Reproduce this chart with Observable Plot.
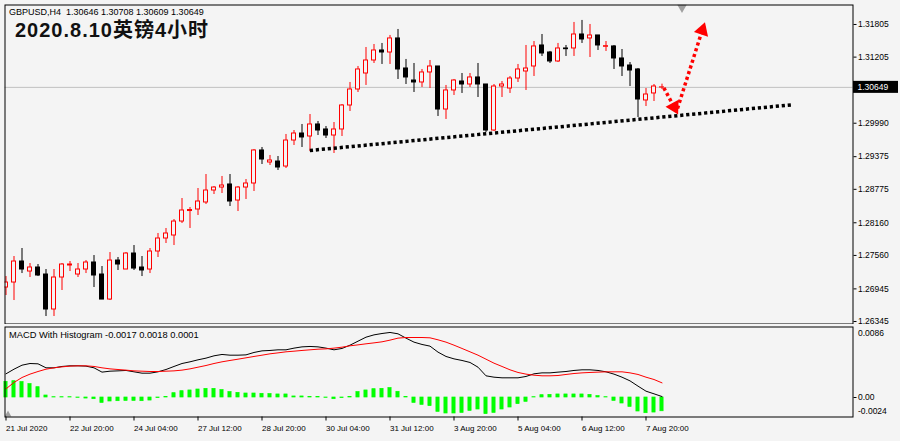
<!DOCTYPE html>
<html><head><meta charset="utf-8">
<script src="https://cdn.jsdelivr.net/npm/d3@7"></script>
<script src="https://cdn.jsdelivr.net/npm/@observablehq/plot@0.6"></script>
<style>
html,body{margin:0;padding:0;}
body{width:900px;height:441px;background:#f4f4f4;position:relative;overflow:hidden;font-family:"Liberation Sans",Arial,sans-serif;}
#main,#macd,#overlay{position:absolute;left:0;}
#main{top:0}
#macd{top:324px}
#overlay{top:0;pointer-events:none}
.edge{position:absolute;background:#a0a0a0}
svg{display:block}
</style></head><body>
<div class="edge" style="left:0;top:0;width:2px;height:441px"></div>
<div class="edge" style="left:0;top:0;width:900px;height:1px"></div>
<div id="main"></div>
<div id="macd"></div>
<div id="overlay"></div>
<script>
// ---------- data ----------
const symbol = "GBPUSD,H4";
const title = "2020.8.10英镑4小时";

const open = [1.26970,1.27062,1.27448,1.27264,1.27338,1.27209,1.26566,1.27154,1.27375,1.27209,
1.27301,1.27430,1.27209,1.26749,1.27466,1.27301,1.27595,1.27338,1.27301,1.27632,
1.27871,1.27926,1.28183,1.28376,1.28404,1.28533,1.28753,1.28808,1.28864,1.28569,
1.28808,1.28882,1.29489,1.29268,1.29286,1.29194,1.29672,1.29801,1.29746,1.29967,
1.29875,1.29764,1.29875,1.30316,1.30610,1.30904,1.31143,1.31327,1.31290,1.31548,
1.30996,1.30775,1.30739,1.30923,1.31033,1.30242,1.30592,1.30757,1.30702,1.30831,
1.30702,1.29856,1.30665,1.30628,1.30812,1.30941,1.31033,1.31419,1.31290,1.31125,
1.31364,1.31364,1.31621,1.31548,1.31603,1.31395,1.31401,1.31180,1.31051,1.30978,
1.30408,1.30537,1.30646];

const high = [1.27172,1.27540,1.27687,1.27411,1.27393,1.27301,1.27301,1.27411,1.27448,1.27411,
1.27466,1.27558,1.27356,1.27613,1.27522,1.27613,1.27742,1.27540,1.27687,1.27963,
1.28055,1.28220,1.28606,1.28441,1.28790,1.29047,1.28827,1.29011,1.29047,1.28827,
1.28955,1.29507,1.29544,1.29397,1.29378,1.29783,1.29856,1.29967,1.30150,1.30022,
1.29930,1.30003,1.30334,1.30739,1.31033,1.31382,1.31437,1.31456,1.31603,1.31713,
1.31162,1.31088,1.30978,1.31143,1.31033,1.30684,1.30794,1.30904,1.30904,1.31088,
1.30702,1.30702,1.30757,1.30849,1.31070,1.31419,1.31492,1.31621,1.31309,1.31456,
1.31419,1.31842,1.31879,1.31805,1.31603,1.31492,1.31419,1.31345,1.31106,1.30996,
1.30628,1.30702,1.30708];

const low = [1.26823,1.26731,1.27227,1.27154,1.27172,1.26437,1.26437,1.26915,1.27264,1.27154,
1.27227,1.26970,1.26749,1.26731,1.27283,1.27301,1.27283,1.27172,1.27227,1.27522,
1.27779,1.27742,1.28147,1.28055,1.28294,1.28496,1.28680,1.28698,1.28459,1.28367,
1.28588,1.28735,1.29231,1.29213,1.29121,1.29158,1.29581,1.29544,1.29470,1.29764,
1.29709,1.29434,1.29746,1.30206,1.30555,1.30684,1.31088,1.31070,1.31070,1.30794,
1.30702,1.30555,1.30647,1.30628,1.30114,1.30059,1.30500,1.30537,1.30647,1.30463,
1.29820,1.29838,1.30463,1.30537,1.30739,1.30592,1.30849,1.31217,1.31088,1.31106,
1.31217,1.31217,1.31456,1.31198,1.31327,1.31309,1.30978,1.30849,1.30665,1.30095,
1.30297,1.30389,1.30609];

const close = [1.27062,1.27448,1.27301,1.27338,1.27191,1.26566,1.27154,1.27393,1.27393,1.27301,
1.27430,1.27191,1.26749,1.27466,1.27393,1.27595,1.27319,1.27283,1.27632,1.27871,
1.27963,1.28183,1.28386,1.28395,1.28551,1.28753,1.28808,1.28845,1.28551,1.28808,
1.28882,1.29489,1.29323,1.29305,1.29176,1.29672,1.29801,1.29728,1.29967,1.29856,
1.29764,1.29875,1.30316,1.30610,1.30978,1.31143,1.31327,1.31290,1.31548,1.30978,
1.30831,1.30739,1.30923,1.31033,1.30242,1.30592,1.30775,1.30702,1.30831,1.30702,
1.29856,1.30665,1.30702,1.30812,1.30978,1.30996,1.31401,1.31272,1.31125,1.31364,
1.31351,1.31621,1.31529,1.31603,1.31419,1.31406,1.31180,1.31033,1.30959,1.30426,
1.30518,1.30665,1.30649];

const macd = [0.00296,0.00354,0.00404,0.00425,0.00421,0.00371,0.00371,0.00388,0.00396,0.00396,
0.00392,0.00371,0.00317,0.00329,0.00333,0.00338,0.00321,0.00304,0.00304,0.00321,
0.00350,0.00388,0.00425,0.00446,0.00471,0.00492,0.00521,0.00538,0.00529,0.00529,
0.00533,0.00563,0.00583,0.00588,0.00596,0.00596,0.00617,0.00633,0.00638,0.00633,
0.00617,0.00596,0.00613,0.00654,0.00704,0.00754,0.00783,0.00800,0.00813,0.00796,
0.00742,0.00692,0.00663,0.00642,0.00567,0.00513,0.00483,0.00463,0.00438,0.00379,
0.00271,0.00254,0.00246,0.00246,0.00246,0.00263,0.00296,0.00308,0.00308,0.00317,
0.00325,0.00338,0.00346,0.00346,0.00338,0.00321,0.00292,0.00254,0.00208,0.00142,
0.00079,0.00046,0.00012];

const signal = [0.00108,0.00188,0.00250,0.00292,0.00325,0.00354,0.00371,0.00383,0.00392,0.00396,
0.00396,0.00388,0.00371,0.00358,0.00350,0.00342,0.00333,0.00329,0.00325,0.00325,
0.00329,0.00333,0.00342,0.00358,0.00379,0.00400,0.00425,0.00446,0.00463,0.00479,
0.00496,0.00513,0.00529,0.00546,0.00558,0.00571,0.00579,0.00588,0.00596,0.00604,
0.00608,0.00617,0.00629,0.00646,0.00658,0.00671,0.00683,0.00696,0.00717,0.00742,
0.00750,0.00750,0.00750,0.00746,0.00721,0.00692,0.00654,0.00613,0.00571,0.00529,
0.00479,0.00429,0.00388,0.00346,0.00313,0.00292,0.00279,0.00271,0.00271,0.00275,
0.00288,0.00300,0.00308,0.00313,0.00317,0.00321,0.00321,0.00321,0.00308,0.00288,
0.00254,0.00225,0.00183];

const hist = [0.00196,0.00204,0.00192,0.00167,0.00129,0.00025,0.00004,0.00004,0.00004,-0.00004,
-0.00013,-0.00021,-0.00067,-0.00050,-0.00046,-0.00042,-0.00042,-0.00046,-0.00038,-0.00008,
0.00008,0.00054,0.00079,0.00088,0.00100,0.00108,0.00108,0.00092,0.00067,0.00058,
0.00050,0.00050,0.00046,0.00042,0.00038,0.00038,0.00013,0.00013,0.00008,0.00008,
-0.00004,-0.00021,-0.00008,0.00008,0.00067,0.00088,0.00104,0.00108,0.00117,0.00071,
0.00008,-0.00067,-0.00092,-0.00108,-0.00179,-0.00200,-0.00200,-0.00192,-0.00167,-0.00150,
-0.00208,-0.00192,-0.00150,-0.00125,-0.00083,-0.00054,0.00004,0.00029,0.00033,0.00038,
0.00038,0.00038,0.00038,0.00033,0.00017,0.00004,-0.00042,-0.00075,-0.00117,-0.00175,
-0.00196,-0.00188,-0.00172];

const priceTicks = [1.31805,1.31205,1.29990,1.29375,1.28775,1.28160,1.27560,1.26945,1.26345];
const timeTickIdx = [0,8,16,24,32,40,48,56,64,72,80];
const timeTickLabels = ["21 Jul 2020","22 Jul 20:00","24 Jul 04:00","27 Jul 12:00","28 Jul 20:00",
  "30 Jul 04:00","31 Jul 12:00","3 Aug 20:00","5 Aug 04:00","6 Aug 12:00","7 Aug 20:00"];
const macdTickVals = [0.0086, 0, -0.0024];
const macdTickLabels = ["0.0086","0.00","-0.0024"];

// annotations (bar index, price)
const trendI = [37.98, 98.27];
const trendP = [1.29489, 1.30329];
const arrowDownI = [82.23, 83.81];
const arrowDownP = [1.30641, 1.30206];
const arrowUpI = [83.94, 87.22];
const arrowUpP = [1.30261, 1.31787];
const headI = [83.51, 87.04];
const headP = [1.30287, 1.31698];
const shiftMarkI = [84.5];

// ---------- drawing ----------
const BG = "#f4f4f4", RED = "#ff0000", GREEN = "#00ff00";
const FONT = "'Liberation Sans', Arial, sans-serif";
const AX = 8.5;
const n = open.length;
const bars = d3.range(n).map(i => ({i, o: open[i], h: high[i], l: low[i], c: close[i]}));
const up = bars.filter(d => d.c >= d.o);
const dn = bars.filter(d => d.c < d.o);
const hw = 0.3125;
const xDomain = [-0.125, 105.875];
const seg = (I, P) => d3.range(I.length).map(k => ({i: I[k], p: P[k]}));
const headAngles = [152, 18];

const dotted = {strokeWidth: 3.5, strokeDasharray: "3.2,2.8", strokeLinecap: "butt"};
const shadow = {stroke: "#8c8c8c", strokeOpacity: 0.55, strokeWidth: 5, dx: 3, dy: 5, ariaLabel: "shadow"};

const mainPlot = Plot.plot({
  width: 900, height: 324,
  marginTop: 4.5, marginBottom: 0.5, marginLeft: 4.5, marginRight: 47.5,
  style: {background: BG, fontFamily: FONT, fontSize: AX + "px", overflow: "visible", color: "black"},
  x: {domain: xDomain, axis: null},
  y: {domain: [1.262995, 1.32163]},
  marks: [
    Plot.ruleY([close[n - 1]], {stroke: "#c0c0c0"}),
    Plot.ruleX(dn, {x: "i", y1: "l", y2: "h", stroke: "black", clip: true}),
    Plot.ruleX(up, {x: "i", y1: "l", y2: "h", stroke: RED, clip: true}),
    Plot.rect(dn, {x1: d => d.i - hw, x2: d => d.i + hw, y1: "o", y2: "c", fill: "black", stroke: "black", insetLeft: 0.5, insetRight: 0.5, clip: true}),
    Plot.rect(up, {x1: d => d.i - hw, x2: d => d.i + hw, y1: "o", y2: "c", fill: BG, stroke: RED, insetLeft: 0.5, insetRight: 0.5, clip: true}),
    // shadows
    Plot.line(seg(trendI, trendP), {x: "i", y: "p", ...shadow}),
    Plot.line(seg(arrowDownI, arrowDownP), {x: "i", y: "p", ...shadow}),
    Plot.line(seg(arrowUpI, arrowUpP), {x: "i", y: "p", ...shadow}),
    // trend line
    Plot.line(seg(trendI, trendP), {x: "i", y: "p", stroke: "black", ...dotted}),
    // red arrows
    Plot.line(seg(arrowDownI, arrowDownP), {x: "i", y: "p", stroke: RED, ...dotted}),
    Plot.line(seg(arrowUpI, arrowUpP), {x: "i", y: "p", stroke: RED, ...dotted}),
    Plot.dot(seg(headI, headP), {x: "i", y: "p", symbol: "triangle", r: 5.5, fill: RED, stroke: "none", rotate: (d, k) => headAngles[k]}),
    // chart shift marker
    Plot.dot(shiftMarkI, {x: d => d, frameAnchor: "top", dy: 2.5, symbol: "triangle", rotate: 180, r: 3.5, fill: "#a0a0a0", stroke: "none"}),
    Plot.frame({stroke: "black"}),
    Plot.axisY(priceTicks, {anchor: "right", tickSize: 3, tickPadding: 2, fontSize: AX, tickFormat: d => d.toFixed(5), label: null})
  ]
});
document.getElementById("main").appendChild(mainPlot);

// current price label
{
  const yc = mainPlot.scale("y").apply(close[n - 1]);
  const s = d3.select(mainPlot);
  s.append("rect").attr("x", 853).attr("y", yc - 6).attr("width", 45).attr("height", 12).attr("fill", "black");
  s.append("text").attr("x", 857.5).attr("y", yc + 3).attr("fill", "white").attr("font-size", AX)
    .attr("text-anchor", "start").attr("font-family", FONT).text(close[n - 1].toFixed(5));
  s.selectAll('g[aria-label="shadow"]').style("filter", "blur(2px)");
}

const mrows = d3.range(n).map(i => ({i, m: macd[i], s: signal[i], h: hist[i]}));
const macdPlot = Plot.plot({
  width: 900, height: 117,
  marginTop: 2.5, marginBottom: 24.5, marginLeft: 4.5, marginRight: 47.5,
  style: {background: BG, fontFamily: FONT, fontSize: AX + "px", overflow: "visible", color: "black"},
  x: {domain: xDomain},
  y: {domain: [-0.0024375, 0.0088125]},
  marks: [
    Plot.rect(mrows, {x1: d => d.i - 0.2, x2: d => d.i + 0.2, y1: d => 0, y2: "h", fill: GREEN, stroke: GREEN, strokeWidth: 0.7}),
    Plot.line(mrows, {x: "i", y: "m", stroke: "black", strokeWidth: 1}),
    Plot.line(mrows, {x: "i", y: "s", stroke: RED, strokeWidth: 1}),
    Plot.dot([0], {frameAnchor: "bottom-left", dx: 3, dy: -2.5, symbol: "triangle", r: 2.5, fill: "#a0a0a0", stroke: "none"}),
    Plot.frame({stroke: "black"}),
    Plot.axisY([macdTickVals[1]], {anchor: "right", tickSize: 3, tickPadding: 2, fontSize: AX, tickFormat: () => macdTickLabels[1], label: null}),
    Plot.text([macdTickVals[0]], {y: d => d, frameAnchor: "right", dx: 5, dy: 5, textAnchor: "start", fontSize: AX, text: () => macdTickLabels[0]}),
    Plot.text([macdTickVals[2]], {y: d => d, frameAnchor: "right", dx: 5, dy: -5, textAnchor: "start", fontSize: AX, text: () => macdTickLabels[2]}),
    Plot.axisX(timeTickIdx, {anchor: "bottom", tickSize: 4, tickPadding: 4, fontSize: 8, textAnchor: "start",
      tickFormat: d => timeTickLabels[timeTickIdx.indexOf(d)], label: null})
  ]
});
document.getElementById("macd").appendChild(macdPlot);

// overlay texts
const ov = d3.select("#overlay").append("svg").attr("width", 900).attr("height", 441);
ov.append("text").attr("x", 9).attr("y", 15).attr("font-size", 9).attr("font-family", FONT)
  .style("white-space", "pre")
  .text(`${symbol}  ${[open, high, low, close].map(a => a[n - 1].toFixed(5)).join(" ")}`);
ov.append("text").attr("x", 15).attr("y", 36.5).attr("font-size", 20).attr("font-weight", "bold")
  .attr("letter-spacing", 1).attr("fill", "#111")
  .attr("font-family", "'Liberation Sans', 'Noto Sans CJK SC', sans-serif").text(title);
ov.append("text").attr("x", 9).attr("y", 338).attr("font-size", 9.3).attr("font-family", FONT)
  .text(`MACD With Histogram ${hist[n - 1].toFixed(4)} ${signal[n - 1].toFixed(4)} ${macd[n - 1].toFixed(4)}`);
</script>
</body></html>
